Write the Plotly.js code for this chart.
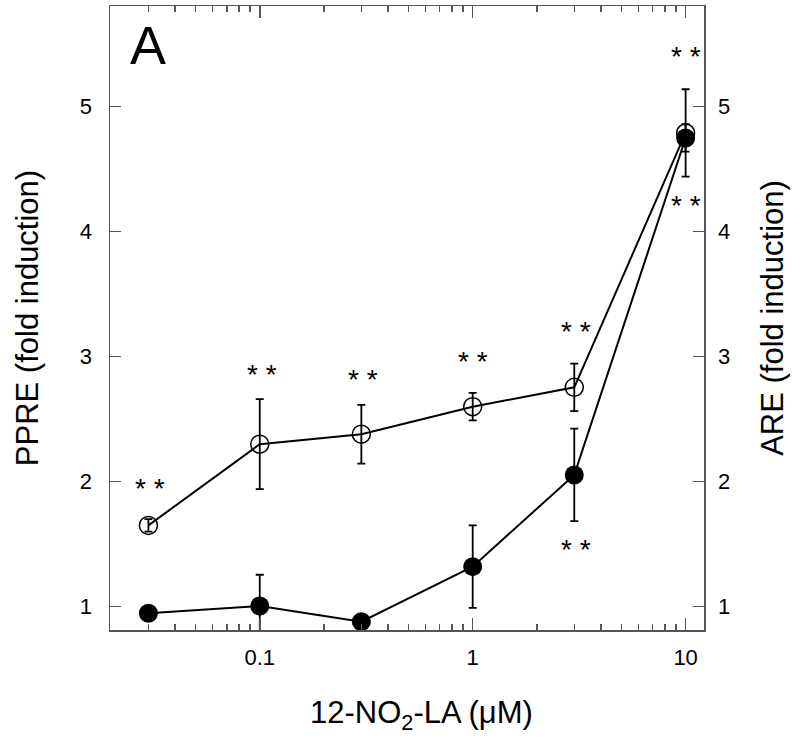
<!DOCTYPE html>
<html>
<head>
<meta charset="utf-8">
<script src="https://cdn.plot.ly/plotly-3.0.1.min.js"></script>
<style>body{margin:0;padding:0;background:#fff}#chart{width:800px;height:750px}</style>
</head>
<body>
<div id="chart"></div>
<script>
// Concentrations (µM)
var conc = [0.03, 0.1, 0.3, 1, 3, 10];
// open circles
var openY = [1.65, 2.30, 2.38, 2.60, 2.755, 4.79];
var openErr = [0.05, 0.36, 0.235, 0.11, 0.19, 0.35];
// filled circles
var fillY = [0.947, 1.005, 0.88, 1.32, 2.054, 4.75];
var fillErr = [0.04, 0.25, 0.04, 0.33, 0.37, 0.11];
// significance markers
var starX = [0.0305, 0.102, 0.305, 1.0, 3.05, 10.0, 3.05, 10.0];
var starY = [1.98, 2.89, 2.85, 2.99, 3.23, 5.43, 1.49, 4.24];
var starText = ["* *", "* *", "* *", "* *", "* *", "* *", "* *", "* *"];
// axis ticks
var majorX = [0.1, 1, 10];
var majorXLabels = ["0.1", "1", "10"];
var minorX = [0.02,0.03,0.04,0.05,0.06,0.07,0.08,0.09,0.2,0.3,0.4,0.5,0.6,0.7,0.8,0.9,2,3,4,5,6,7,8,9];
var yTicks = [1, 2, 3, 4, 5];

var xr = [Math.log10(0.0198), Math.log10(12.2)];
var yr = [0.813, 5.806];
var fam = "Liberation Sans, Arial, Helvetica, sans-serif";
var axCol = "#555";

var traces = [
  {x: conc, y: openY, type: "scatter", mode: "lines+markers",
   line: {color: "#000", width: 2},
   marker: {symbol: "circle-open", size: 18, color: "#000", line: {width: 1.5, color: "#000"}},
   error_y: {type: "data", array: openErr, visible: true, color: "#000", thickness: 1.8, width: 4},
   hoverinfo: "skip", showlegend: false},
  {x: conc, y: fillY, type: "scatter", mode: "lines+markers",
   line: {color: "#000", width: 2},
   marker: {symbol: "circle", size: 19, color: "#000"},
   error_y: {type: "data", array: fillErr, visible: true, color: "#000", thickness: 1.8, width: 4},
   hoverinfo: "skip", showlegend: false},
  {x: [1], y: [3], xaxis: "x2", yaxis: "y2", type: "scatter", mode: "markers",
   marker: {opacity: 0}, hoverinfo: "skip", showlegend: false}
];

var annotations = [];
for (var i = 0; i < starX.length; i++) {
  annotations.push({x: Math.log10(starX[i]), y: starY[i], xref: "x", yref: "y", text: starText[i],
    showarrow: false, yshift: -4, font: {family: fam, size: 28, color: "#000"}});
}
annotations.push({x: 0.03, y: 0.989, xref: "paper", yref: "paper", text: "A", showarrow: false,
  font: {family: fam, size: 54, color: "#000"}});
annotations.push({x: 0.525, y: -0.171, xref: "paper", yref: "paper", text: "12-NO<sub>2</sub>-LA (μM)",
  showarrow: false, font: {family: fam, size: 31, color: "#000"}});

var layout = {
  width: 800, height: 750,
  margin: {l: 110, r: 96, t: 6, b: 120},
  paper_bgcolor: "#fff", plot_bgcolor: "#fff",
  font: {family: fam, color: "#000"},
  showlegend: false,
  xaxis: {type: "log", range: xr, tickvals: majorX, ticktext: majorXLabels,
    ticks: "inside", ticklen: 12, tickwidth: 1.5, tickcolor: axCol,
    showline: true, linecolor: axCol, linewidth: 1.5, mirror: "ticks",
    showgrid: false, zeroline: false, ticklabelstandoff: 7,
    tickfont: {size: 22, family: fam}},
  xaxis2: {type: "log", range: xr, overlaying: "x", tickvals: minorX, showticklabels: false,
    ticks: "inside", ticklen: 6, tickwidth: 1.5, tickcolor: axCol, mirror: "ticks",
    showline: false, showgrid: false, zeroline: false},
  yaxis: {range: yr, tickvals: yTicks, ticks: "inside", ticklen: 11, tickwidth: 1.5, tickcolor: axCol,
    showline: true, linecolor: axCol, linewidth: 1.5, mirror: true,
    showgrid: false, zeroline: false, ticklabelstandoff: 12,
    tickfont: {size: 22, family: fam},
    title: {text: "PPRE (fold induction)", font: {size: 31, family: fam}, standoff: 32}},
  yaxis2: {range: yr, tickvals: yTicks, overlaying: "y", side: "right", anchor: "x",
    ticks: "inside", ticklen: 11, tickwidth: 1.5, tickcolor: axCol,
    showline: false, showgrid: false, zeroline: false, ticklabelstandoff: 13,
    tickfont: {size: 22, family: fam},
    title: {text: "ARE (fold induction)", font: {size: 31, family: fam}, standoff: 32}},
  annotations: annotations
};

Plotly.newPlot("chart", traces, layout, {staticPlot: true, displayModeBar: false});
</script>
</body>
</html>
